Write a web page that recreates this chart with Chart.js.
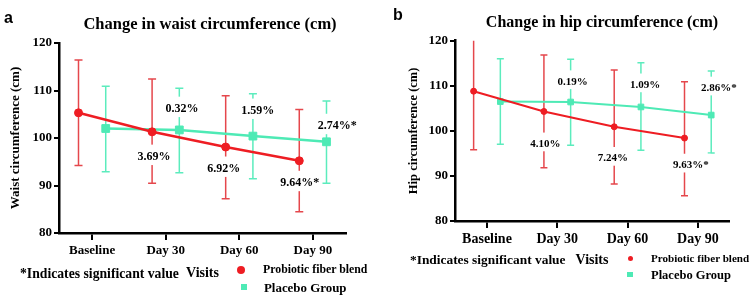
<!DOCTYPE html>
<html>
<head>
<meta charset="utf-8">
<script src="https://cdn.jsdelivr.net/npm/chart.js@4.4.1/dist/chart.umd.min.js"></script>
<style>
    body { margin: 0; background: #fff; width: 750px; height: 301px; overflow: hidden; position: relative; }
    .panel { position: absolute; top: 0; width: 375px; height: 301px; }
    .panel canvas { position: absolute; left: 0; top: 0; }
    .txt { position: absolute; white-space: nowrap; font-family: 'Liberation Serif', serif; font-weight: bold; color: #000; line-height: 1; }
    .letter { position: absolute; font-family: 'Liberation Sans', Arial, sans-serif; font-weight: bold; line-height: 1; }
    .mark { position: absolute; }
</style>
</head>
<body>
<div class="panel" style="left:0">
    <canvas id="waistChart" width="375" height="301"></canvas>
    <div class="letter" style="left:4px;top:10px;font-size:16px">a</div>
    <div class="txt" style="left:210px;top:15.5px;font-size:16.5px;transform:translateX(-50%)">Change in waist circumference (cm)</div>
    <div class="txt" style="left:20px;top:267px;font-size:13.7px">*Indicates significant value</div>
    <div class="mark" style="left:237px;top:265.5px;width:8px;height:8px;border-radius:50%;background:#ee1d23"></div>
    <div class="txt" style="left:263px;top:264px;font-size:11.8px">Probiotic fiber blend</div>
    <div class="mark" style="left:241px;top:284px;width:6px;height:6px;background:#4eeab5"></div>
    <div class="txt" style="left:264px;top:281.8px;font-size:12.9px">Placebo Group</div>
</div>
<div class="panel" style="left:375px">
    <canvas id="hipChart" width="375" height="301"></canvas>
    <div class="letter" style="left:18px;top:7px;font-size:16px">b</div>
    <div class="txt" style="left:227px;top:14px;font-size:16px;transform:translateX(-50%)">Change in hip circumference (cm)</div>
    <div class="txt" style="left:35px;top:253.3px;font-size:13.4px">*Indicates significant value</div>
    <div class="mark" style="left:252.5px;top:255.5px;width:5.5px;height:5.5px;border-radius:50%;background:#ee1d23"></div>
    <div class="txt" style="left:276px;top:252.8px;font-size:11.1px">Probiotic fiber blend</div>
    <div class="mark" style="left:252.3px;top:271.5px;width:5.5px;height:5.5px;background:#4eeab5"></div>
    <div class="txt" style="left:276px;top:268.8px;font-size:12.5px">Placebo Group</div>
</div>
<script>
// visits on the x axis
const visits = ['Baseline', 'Day 30', 'Day 60', 'Day 90']

// waist circumference (cm): mean with error bar ends
const waistProbiotic = [105.3, 101.3, 98.1, 95.2]
const waistProbioticHigh = [116.4, 112.4, 108.9, 106.0]
const waistProbioticLow = [94.2, 90.5, 87.2, 84.5]
const waistPlacebo = [102.0, 101.7, 100.4, 99.2]
const waistPlaceboHigh = [110.9, 110.5, 109.3, 107.8]
const waistPlaceboLow = [92.9, 92.7, 91.4, 90.5]

// hip circumference (cm)
const hipProbiotic = [108.8, 104.3, 100.9, 98.4]
const hipProbioticHigh = [121, 116.8, 113.5, 110.9]
const hipProbioticLow = [95.8, 91.8, 88.2, 85.6]
const hipPlacebo = [106.5, 106.4, 105.3, 103.5]
const hipPlaceboHigh = [116.0, 115.9, 115.1, 113.3]
const hipPlaceboLow = [97.0, 96.8, 95.7, 95.1]

// percent change notes, placed in data units
const waistNoteText = ['3.69%', '6.92%', '9.64%*', '0.32%', '1.59%', '2.74%*']
const waistNoteX = [1.84, 2.79, 3.82, 2.22, 3.25, 4.33]
const waistNoteY = [96.2, 93.7, 90.7, 106.3, 105.9, 102.7]
const hipNoteText = ['4.10%', '7.24%', '9.63%*', '0.19%', '1.09%', '2.86%*']
const hipNoteX = [1.83, 2.79, 3.90, 2.22, 3.25, 4.30]
const hipNoteY = [97.3, 94.1, 92.6, 111.1, 110.4, 109.7]

const SERIF = "'Liberation Serif', 'Times New Roman', serif"
const RED = '#ee1d23'
const GREEN = '#4eeab5'

// error bars + percent labels, drawn under the lines
const errorBars = {
    id: 'errorBars',
    beforeDatasetsDraw(chart) {
        const ctx = chart.ctx
        const xs = chart.scales.x, ys = chart.scales.y
        const area = chart.chartArea
        ctx.save()
        ctx.beginPath()
        ctx.rect(area.left, area.top, area.right - area.left, area.bottom - area.top)
        ctx.clip()
        chart.data.datasets.forEach(ds => {
            const cap = ds.capWidth
            ctx.strokeStyle = ds.barColor
            ctx.lineWidth = 1.5
            ds.data.forEach((p, i) => {
                const x = xs.getPixelForValue(p.x)
                const top = ys.getPixelForValue(ds.high[i])
                const bot = ys.getPixelForValue(ds.low[i])
                ctx.beginPath()
                ctx.moveTo(x, top); ctx.lineTo(x, bot)
                ctx.moveTo(x - cap, top); ctx.lineTo(x + cap, top)
                ctx.moveTo(x - cap, bot); ctx.lineTo(x + cap, bot)
                ctx.stroke()
            })
        })
        ctx.restore()

        // notes with white boxes that cut through the bars
        const notes = chart.options.plugins.errorBars
        ctx.save()
        ctx.font = 'bold ' + notes.size + 'px ' + SERIF
        ctx.textAlign = 'center'
        ctx.textBaseline = 'middle'
        notes.text.forEach((t, i) => {
            const x = xs.getPixelForValue(notes.x[i])
            const y = ys.getPixelForValue(notes.y[i])
            const w = ctx.measureText(t).width
            ctx.fillStyle = '#fff'
            ctx.fillRect(x - w / 2 - 2, y - notes.size * 0.95, w + 4, notes.size * 1.7)
            ctx.fillStyle = '#000'
            ctx.fillText(t, x, y + 1)
        })
        ctx.restore()
    }
}

function makePanel(id, g) {
    const ctx = document.getElementById(id).getContext('2d')
    return new Chart(ctx, {
        type: 'line',
        data: {
            datasets: [
                {
                    label: 'Probiotic fiber blend',
                    data: g.probiotic.map((v, i) => ({ x: i + 1 - g.shift, y: v })),
                    high: g.probioticHigh,
                    low: g.probioticLow,
                    barColor: '#e5474c',
                    capWidth: g.cap,
                    borderColor: RED,
                    backgroundColor: RED,
                    borderWidth: g.lineWidth,
                    pointStyle: 'circle',
                    pointRadius: g.dot,
                    pointBorderWidth: 1,
                },
                {
                    label: 'Placebo Group',
                    data: g.placebo.map((v, i) => ({ x: i + 1 + g.shift, y: v })),
                    high: g.placeboHigh,
                    low: g.placeboLow,
                    barColor: '#5cecbd',
                    capWidth: g.cap,
                    borderColor: GREEN,
                    backgroundColor: GREEN,
                    borderWidth: g.lineWidth,
                    pointStyle: 'rect',
                    pointRadius: g.square,
                    pointBorderWidth: 1,
                },
            ],
        },
        options: {
            responsive: false,
            animation: false,
            layout: { padding: { top: g.top, right: g.right, left: 0, bottom: 0 } },
            plugins: {
                legend: { display: false },
                tooltip: { enabled: false },
                errorBars: { text: g.noteText, x: g.noteX, y: g.noteY, size: g.noteSize },
            },
            scales: {
                x: {
                    type: 'linear',
                    min: g.xmin,
                    max: g.xmax,
                    afterFit: s => { s.height = g.xHeight },
                    border: { display: true, color: '#000', width: 2.5 },
                    grid: { drawOnChartArea: false, color: '#000', lineWidth: 2, tickLength: 7 },
                    ticks: {
                        stepSize: 1,
                        includeBounds: false,
                        autoSkip: false,
                        maxRotation: 0,
                        padding: g.xTickPad,
                        color: '#000',
                        font: { family: SERIF, weight: 'bold', size: g.xTickSize },
                        callback: v => visits[v - 1] || '',
                    },
                    title: {
                        display: true,
                        text: 'Visits',
                        color: '#000',
                        font: { family: SERIF, weight: 'bold', size: 14 },
                        padding: { top: 0, bottom: g.visitsPad },
                    },
                },
                y: {
                    min: 80,
                    max: 120,
                    afterFit: s => { s.width = g.yWidth },
                    border: { display: true, color: '#000', width: 2.5 },
                    grid: { drawOnChartArea: false, color: '#000', lineWidth: 2, tickLength: 5 },
                    ticks: {
                        stepSize: 10,
                        padding: 2,
                        color: '#000',
                        font: { family: SERIF, weight: 'bold', size: 13 },
                    },
                    title: {
                        display: true,
                        text: g.yTitle,
                        color: '#000',
                        font: { family: SERIF, weight: 'bold', size: g.yTitleSize },
                        padding: { top: g.yTitlePad, bottom: 0 },
                    },
                },
            },
        },
        plugins: [errorBars],
    })
}

makePanel('waistChart', {
    probiotic: waistProbiotic, probioticHigh: waistProbioticHigh, probioticLow: waistProbioticLow,
    placebo: waistPlacebo, placeboHigh: waistPlaceboHigh, placeboLow: waistPlaceboLow,
    noteText: waistNoteText, noteX: waistNoteX, noteY: waistNoteY, noteSize: 12,
    yTitle: 'Waist circumference (cm)', yTitleSize: 13, yTitlePad: 8,
    shift: 0.185, cap: 4, dot: 4, square: 5.5, lineWidth: 2.5,
    xmin: 0.55, xmax: 4.45, top: 43, right: 29, yWidth: 59, xHeight: 68,
    xTickPad: 3, xTickSize: 13, visitsPad: 19.6,
})

makePanel('hipChart', {
    probiotic: hipProbiotic, probioticHigh: hipProbioticHigh, probioticLow: hipProbioticLow,
    placebo: hipPlacebo, placeboHigh: hipPlaceboHigh, placeboLow: hipPlaceboLow,
    noteText: hipNoteText, noteX: hipNoteX, noteY: hipNoteY, noteSize: 11,
    yTitle: 'Hip circumference (cm)', yTitleSize: 12.5, yTitlePad: 31.5,
    shift: 0.19, cap: 3.5, dot: 3, square: 4, lineWidth: 2,
    xmin: 0.545, xmax: 4.443, top: 40.7, right: 21, yWidth: 80, xHeight: 80,
    xTickPad: 3, xTickSize: 14, visitsPad: 32.6,
})
</script>
</body>
</html>
